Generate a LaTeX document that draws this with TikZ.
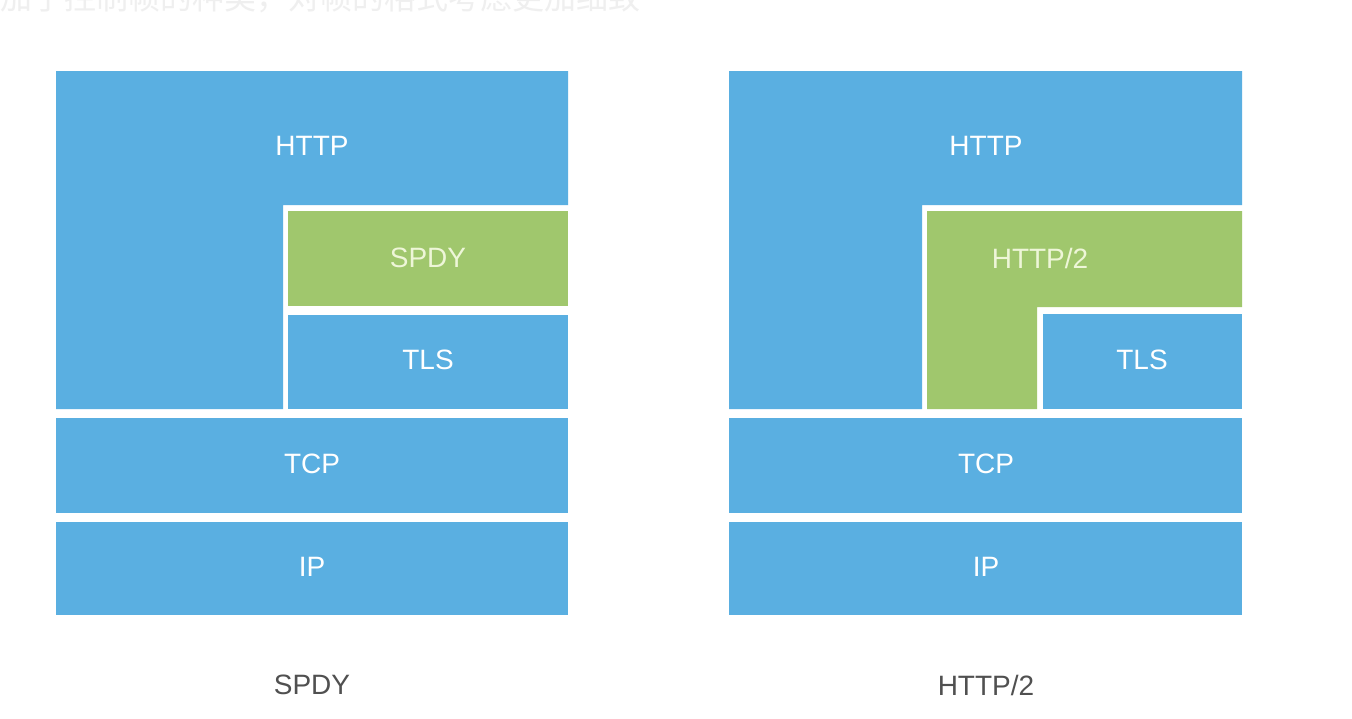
\documentclass[tikz,border=0pt]{standalone}
\usepackage{fontspec}
\setmainfont{Liberation Sans}
\newfontfamily\cjk{Noto Sans CJK SC}
\definecolor{layerblue}{HTML}{5AAFE1}
\definecolor{layergreen}{HTML}{A0C76D}
\definecolor{captiongray}{HTML}{505050}
\definecolor{greentext}{HTML}{EEF6D8}
\definecolor{ghost}{HTML}{EFEFEF}
\begin{document}
\begin{tikzpicture}[x=1pt,y=-1pt,
  bluelayer/.style={fill=layerblue},
  greenlayer/.style={fill=layergreen},
  lbl/.style={font=\fontsize{28}{33}\selectfont, text=white, inner sep=0pt},
  glbl/.style={lbl, text=greentext},
  captiontext/.style={font=\fontsize{28}{33}\selectfont, text=captiongray, inner sep=0pt}]
\useasboundingbox (0,0) rectangle (1352,718);
\clip (0,0) rectangle (1352,718);
\fill[white] (0,0) rectangle (1352,718);
% faint cut-off heading
\node[anchor=west, inner sep=0pt, text=ghost, font=\cjk\fontsize{32}{36}\selectfont] (ghost) at (0,-2) {加了控制帧的种类，对帧的格式考虑更加细致};
% ---- SPDY stack ----
\fill[bluelayer] (56,71) -- (568,71) -- (568,205) -- (283,205) -- (283,409) -- (56,409) -- cycle;
\fill[greenlayer] (288,211) rectangle (568,306);
\fill[bluelayer] (288,315) rectangle (568,409);
\fill[bluelayer] (56,418) rectangle (568,513);
\fill[bluelayer] (56,522) rectangle (568,615);
\node[lbl] (httpA) at (312,146) {HTTP};
\node[glbl] (spdyA) at (428,258) {SPDY};
\node[lbl] (tlsA) at (428,360) {TLS};
\node[lbl] (tcpA) at (312,464) {TCP};
\node[lbl] (ipA) at (312,567) {IP};
\node[captiontext] (capA) at (312,685) {SPDY};
% ---- HTTP/2 stack ----
\fill[bluelayer] (729,71) -- (1242,71) -- (1242,205) -- (922,205) -- (922,409) -- (729,409) -- cycle;
\fill[greenlayer] (927,211) -- (1242,211) -- (1242,307) -- (1037,307) -- (1037,409) -- (927,409) -- cycle;
\fill[bluelayer] (1043,314) rectangle (1242,409);
\fill[bluelayer] (729,418) rectangle (1242,513);
\fill[bluelayer] (729,522) rectangle (1242,615);
\node[lbl] (httpB) at (986,146) {HTTP};
\node[glbl] (h2B) at (1040,258) {HTTP/2};
\node[lbl] (tlsB) at (1142,360) {TLS};
\node[lbl] (tcpB) at (986,464) {TCP};
\node[lbl] (ipB) at (986,567) {IP};
\node[captiontext] (capB) at (986,685) {HTTP/2};
\end{tikzpicture}
\end{document}
